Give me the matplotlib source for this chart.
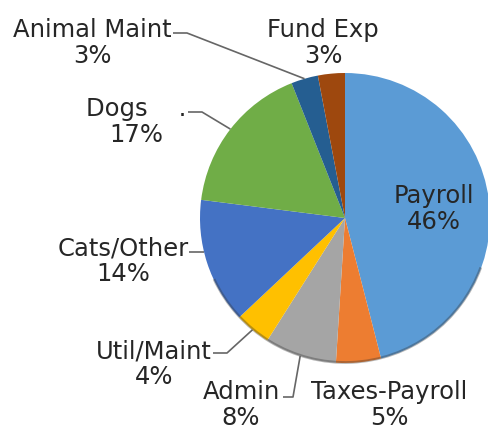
import numpy as np
import matplotlib.pyplot as plt
from matplotlib.patches import Arc

categories = ['Payroll', 'Taxes-Payroll', 'Admin', 'Util/Maint',
              'Cats/Other', 'Dogs', 'Animal Maint', 'Fund Exp']
shares = [46, 5, 8, 4, 14, 17, 3, 3]
label_text = ['Payroll', 'Taxes-Payroll', 'Admin', 'Util/Maint',
              'Cats/Other', 'Dogs    .', 'Animal Maint', 'Fund Exp']
colors = ['#5B9BD5', '#ED7D31', '#A5A5A5', '#FFC000',
          '#4472C4', '#70AD47', '#255E91', '#9E480E']

W, H = 489, 430
fig = plt.figure(figsize=(W / 100, H / 100), dpi=100)
ax = fig.add_axes([0, 0, 1, 1])

cx, cy, r = 345, H - 218, 145
wedges, _ = ax.pie(shares, colors=colors, startangle=90, counterclock=False,
                   center=(cx, cy), radius=r, frame=True,
                   wedgeprops=dict(linewidth=0))
ax.set_xlim(0, W)
ax.set_ylim(0, H)
ax.set_aspect('equal')
ax.axis('off')

# soft dark rim along the lower edge (bevel look of the original)
ax.add_patch(Arc((cx, cy), 2 * r - 1, 2 * r - 1, theta1=205, theta2=340,
                 color='#333333', linewidth=2, alpha=0.35))

# label block centres (pixel coords, y from top) and leader elbows
label_pos = {
    'Payroll': (434, 209),
    'Taxes-Payroll': (389, 405),
    'Admin': (241, 405),
    'Util/Maint': (154, 364),
    'Cats/Other': (123, 261),
    'Dogs': (136, 122),
    'Animal Maint': (92, 43),
    'Fund Exp': (323, 43),
}
leaders = {
    'Admin': [(283, 397), (293, 397)],
    'Util/Maint': [(213, 353), (227, 353)],
    'Cats/Other': [(189, 252)],
    'Dogs': [(188, 112), (202, 112)],
    'Animal Maint': [(173, 33), (187, 33)],
}

txt_color = '#262626'
for w, cat, txt, val in zip(wedges, categories, label_text, shares):
    x, y = label_pos[cat]
    ax.text(x, H - y, f'{txt}\n{val}%', ha='center', va='center',
            fontsize=17.5, color=txt_color, linespacing=1.1,
            family='DejaVu Sans')
    if cat in leaders:
        pts = [(px, H - py) for px, py in leaders[cat]]
        if cat == 'Cats/Other':
            # run straight across to the rim
            ly = pts[-1][1]
            ex, ey = cx - np.sqrt(r ** 2 - (ly - cy) ** 2), ly
        else:
            mid = np.deg2rad((w.theta1 + w.theta2) / 2)
            ex, ey = cx + r * np.cos(mid), cy + r * np.sin(mid)
        xs, ys = zip(*(pts + [(ex, ey)]))
        ax.plot(xs, ys, color='#666666', linewidth=1.2, solid_capstyle='butt')

fig.savefig('out.png', dpi=100)
